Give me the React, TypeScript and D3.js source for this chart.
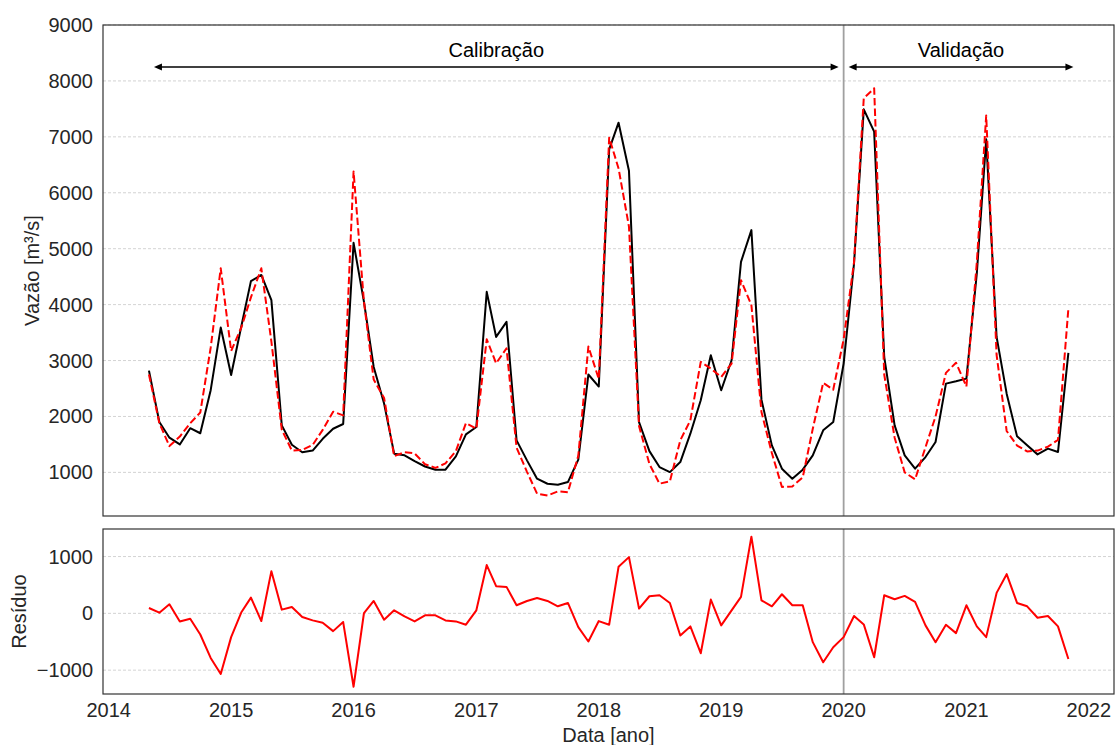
import React from "react";
import * as d3 from "d3";

// Monthly series, May 2014 .. Nov 2021 (91 months)
const START_YEAR = 2014;
const START_MONTH = 4; // May (0-based)

const observed: number[] = [
  2820, 1900, 1620, 1500, 1790, 1700, 2470, 3590, 2740, 3630, 4420, 4530,
  4080, 1840, 1495, 1360, 1390, 1600, 1780, 1865, 5105, 4050, 2885, 2230,
  1335, 1305, 1200, 1105, 1048, 1048, 1286, 1680, 1811, 4228, 3422, 3691,
  1573, 1215, 887, 797, 779, 827, 1227, 2750, 2535, 6776, 7253, 6393,
  1900, 1380, 1095, 1005, 1184, 1692, 2289, 3094, 2468, 3005, 4765, 5332,
  2300, 1483, 1066, 887, 1048, 1304, 1752, 1900, 2945, 4735, 7492, 7092,
  3064, 1841, 1304, 1066, 1274, 1543, 2587, 2629, 2677, 4556, 6955, 3422,
  2408, 1644, 1483, 1322, 1424, 1364, 3136,
];

const simulated: number[] = [
  2750, 1880, 1470, 1640, 1880, 2070, 3230, 4650, 3170, 3600, 4130, 4650,
  3340, 1765, 1390, 1400, 1490, 1760, 2085, 2020, 6380, 4050, 2660, 2330,
  1290, 1360, 1340, 1145, 1080, 1160, 1380, 1880, 1780, 3380, 2950, 3220,
  1440, 1010, 620, 585, 660, 645, 1300, 3250, 2670, 6985, 6435, 5395,
  1830, 1150, 798, 839, 1573, 1931, 2975, 2856, 2706, 2946, 4437, 3990,
  2080, 1345, 740, 749, 910, 1780, 2600, 2480, 3380, 4760, 7690, 7868,
  2750, 1620, 1000, 875, 1450, 2000, 2780, 2960, 2535, 4750, 7380, 3100,
  1740, 1480, 1375, 1390, 1460, 1580, 3930,
];

const residual: number[] = [
  94, 12, 159, -142, -94, -372, -785, -1068, -419, 24, 277, -136,
  743, 65, 112, -65, -124, -165, -313, -153, -1292, 6, 218, -112,
  53, -53, -142, -35, -35, -124, -142, -200, 53, 850, 478, 466,
  142, 218, 271, 218, 124, 183, -242, -496, -136, -200, 820, 990,
  83, 301, 319, 183, -389, -230, -702, 242, -212, 53, 289, 1350,
  230, 124, 336, 142, 142, -507, -862, -596, -419, -47, -195, -773,
  319, 248, 307, 201, -212, -507, -201, -348, 142, -230, -419, 360,
  690, 183, 124, -77, -47, -230, -803,
];

const topTicks: number[] = [1000, 2000, 3000, 4000, 5000, 6000, 7000, 8000, 9000];
const bottomTicks: number[] = [-1000, 0, 1000];
const yearTicks: number[] = [2014, 2015, 2016, 2017, 2018, 2019, 2020, 2021, 2022];

const periods = [
  { label: "Calibração", start: [2014, 4, 1], end: [2020, 0, 1] },
  { label: "Validação", start: [2020, 0, 1], end: [2021, 11, 1] },
];

const FONT = "'Liberation Sans', Arial, Helvetica, sans-serif";
const TXT = "#262626";

export default function App() {
  const W = 1115;
  const H = 745;
  const left = 103;
  const right = 1114;
  const topY0 = 25;
  const topY1 = 516;
  const botY0 = 529;
  const botY1 = 694;

  const dates = observed.map((_, i) =>
    d3.utcMonth.offset(new Date(Date.UTC(START_YEAR, START_MONTH, 1)), i)
  );

  const x = d3
    .scaleUtc()
    .domain([new Date(Date.UTC(2013, 11, 15)), new Date(Date.UTC(2022, 2, 17))])
    .range([left, right]);
  const yTop = d3.scaleLinear().domain([220, 9000]).range([topY1, topY0]);
  const yBot = d3.scaleLinear().domain([-1420, 1485]).range([botY1, botY0]);

  const lineTop = d3
    .line<number>()
    .x((_, i) => x(dates[i]))
    .y((d) => yTop(d));
  const lineBot = d3
    .line<number>()
    .x((_, i) => x(dates[i]))
    .y((d) => yBot(d));

  const split = x(new Date(Date.UTC(2020, 0, 1)));
  const arrowY = 67;
  const shrink = 5;

  const arrowHead = (tipX: number, dir: number) => {
    const len = 8;
    const half = 3.5;
    return `M${tipX},${arrowY} L${tipX - dir * len},${arrowY - half} L${tipX - dir * len},${arrowY + half} Z`;
  };

  return (
    <svg
      width={W}
      height={H}
      style={{ position: "absolute", left: 0, top: 0, background: "#fff" }}
      fontFamily={FONT}
    >
      <rect x={0} y={0} width={W} height={H} fill="#fff" />

      {/* Top panel grid */}
      {topTicks.map((t) => (
        <line
          key={"gt" + t}
          x1={left}
          x2={right}
          y1={yTop(t)}
          y2={yTop(t)}
          stroke="#c8c8c8"
          strokeWidth={0.8}
          strokeDasharray="3,2"
        />
      ))}
      {/* Bottom panel grid */}
      {bottomTicks.map((t) => (
        <line
          key={"gb" + t}
          x1={left}
          x2={right}
          y1={yBot(t)}
          y2={yBot(t)}
          stroke="#c8c8c8"
          strokeWidth={0.8}
          strokeDasharray="3,2"
        />
      ))}

      {/* Split line */}
      <line x1={split} x2={split} y1={topY0} y2={topY1} stroke="#a0a0a0" strokeWidth={1.8} />
      <line x1={split} x2={split} y1={botY0} y2={botY1} stroke="#a0a0a0" strokeWidth={1.8} />

      {/* Series */}
      <path d={lineTop(observed) || ""} fill="none" stroke="#000" strokeWidth={2} strokeLinejoin="round" />
      <path
        d={lineTop(simulated) || ""}
        fill="none"
        stroke="#ff0000"
        strokeWidth={2}
        strokeDasharray="7.4,3.2"
        strokeLinejoin="round"
      />
      <path d={lineBot(residual) || ""} fill="none" stroke="#ff0000" strokeWidth={2} strokeLinejoin="round" />

      {/* Period arrows */}
      {periods.map((p) => {
        const x1 = x(new Date(Date.UTC(p.start[0], p.start[1], p.start[2]))) + shrink;
        const x2 = x(new Date(Date.UTC(p.end[0], p.end[1], p.end[2]))) - shrink;
        return (
          <g key={p.label}>
            <line x1={x1 + 6} x2={x2 - 6} y1={arrowY} y2={arrowY} stroke="#000" strokeWidth={1.6} />
            <path d={arrowHead(x1, -1)} fill="#000" />
            <path d={arrowHead(x2, 1)} fill="#000" />
            <text x={(x1 + x2) / 2} y={57} textAnchor="middle" fontSize={20} fill="#000">
              {p.label}
            </text>
          </g>
        );
      })}

      {/* Frames */}
      <rect x={left} y={topY0} width={right - left} height={topY1 - topY0} fill="none" stroke="#333" strokeWidth={1.2} />
      <rect x={left} y={botY0} width={right - left} height={botY1 - botY0} fill="none" stroke="#333" strokeWidth={1.2} />

      {/* Y tick labels */}
      {topTicks.map((t) => (
        <text key={"tt" + t} x={93} y={yTop(t)} dy="0.35em" textAnchor="end" fontSize={20} fill={TXT}>
          {t}
        </text>
      ))}
      {bottomTicks.map((t) => (
        <text key={"tb" + t} x={93} y={yBot(t)} dy="0.35em" textAnchor="end" fontSize={20} fill={TXT}>
          {t < 0 ? "\u2212" + Math.abs(t) : String(t)}
        </text>
      ))}

      {/* X tick labels */}
      {yearTicks.map((yr) => (
        <text
          key={"x" + yr}
          x={x(new Date(Date.UTC(yr, 0, 1)))}
          y={717}
          textAnchor="middle"
          fontSize={20}
          fill={TXT}
        >
          {yr}
        </text>
      ))}

      {/* Axis labels */}
      <text x={(left + right) / 2} y={742} textAnchor="middle" fontSize={20} fill={TXT}>
        Data [ano]
      </text>
      <text
        transform={`translate(32, ${(topY0 + topY1) / 2}) rotate(-90)`}
        textAnchor="middle"
        dy="0.35em"
        fontSize={20}
        fill={TXT}
      >
        Vazão [m³/s]
      </text>
      <text
        transform={`translate(19, ${(botY0 + botY1) / 2}) rotate(-90)`}
        textAnchor="middle"
        dy="0.35em"
        fontSize={20}
        fill={TXT}
      >
        Resíduo
      </text>
    </svg>
  );
}
